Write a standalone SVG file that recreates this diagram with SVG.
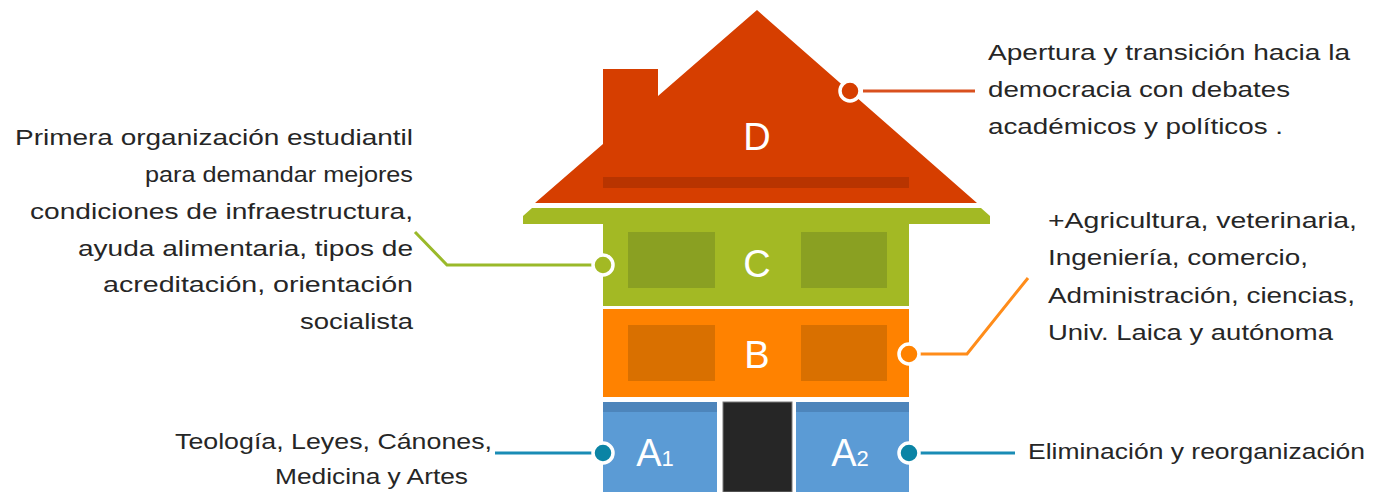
<svg xmlns="http://www.w3.org/2000/svg" width="1385" height="492" viewBox="0 0 1385 492">
<style>
.t{font-family:"Liberation Sans",Arial,sans-serif;font-size:22px;fill:#262626}
.lbl{font-family:"Liberation Sans",Arial,sans-serif;font-size:38px;fill:#ffffff;text-anchor:middle}
.sub{font-family:"Liberation Sans",Arial,sans-serif;font-size:22px;fill:#ffffff}
.ln{fill:none;stroke-width:3}
.dot{stroke:#ffffff;stroke-width:3.5}
</style>
<rect width="1385" height="492" fill="#ffffff"/>
<g id="node-D">
<path d="M757,10 L977,203 L535,203 L603,144 L603,69 L658,69 L658,96 Z" fill="#d63e00"/>
<rect x="603" y="177" width="306" height="11" fill="#b83400"/>
<text class="lbl" x="757" y="150">D</text>
</g>
<g id="node-C">
<path d="M532,208 L981,208 L990,216 L990,224 L909,224 L909,306 L603,306 L603,224 L523,224 L523,216 Z" fill="#a3b924"/>
<rect x="628" y="232" width="87" height="56" fill="#8aa022"/>
<rect x="801" y="232" width="86" height="56" fill="#8aa022"/>
<text class="lbl" x="757" y="277">C</text>
</g>
<g id="node-B">
<rect x="603" y="309" width="306" height="88" fill="#ff8200"/>
<rect x="628" y="325" width="87" height="56" fill="#d97000"/>
<rect x="801" y="325" width="86" height="56" fill="#d97000"/>
<text class="lbl" x="757" y="368">B</text>
</g>
<g id="node-A1">
<rect x="603" y="402" width="114" height="90" fill="#5b9bd5"/>
<rect x="603" y="402" width="114" height="10" fill="#4d85bb"/>
<text class="lbl" x="655" y="466">A<tspan class="sub" dx="0">1</tspan></text>
</g>
<g id="node-door">
<rect x="723" y="402" width="69" height="90" fill="#262626" stroke="#7a7a7a" stroke-width="1"/>
</g>
<g id="node-A2">
<rect x="796" y="402" width="113" height="90" fill="#5b9bd5"/>
<rect x="796" y="402" width="113" height="10" fill="#4d85bb"/>
<text class="lbl" x="850" y="466">A<tspan class="sub">2</tspan></text>
</g>
<g id="connectors">
<path class="ln" d="M863,91 L975,91" stroke="#d9501e"/>
<path class="ln" d="M415,232 L447,265 L592,265" stroke="#9ab92a"/>
<path class="ln" d="M920,354 L967,354 L1028,278" stroke="#ff8c1a"/>
<path class="ln" d="M495,453 L592,453" stroke="#1a8cb5"/>
<path class="ln" d="M920,453 L1015,453" stroke="#1a8cb5"/>
<circle class="dot" cx="850" cy="91" r="10" fill="#d63e00"/>
<circle class="dot" cx="603" cy="265" r="10" fill="#a3b924"/>
<circle class="dot" cx="909" cy="354" r="10" fill="#ff8200"/>
<circle class="dot" cx="603" cy="453" r="10" fill="#0b84a5"/>
<circle class="dot" cx="909" cy="453" r="10" fill="#0b84a5"/>
</g>
<g id="text-D">
<text class="t" x="988" y="60" textLength="362" lengthAdjust="spacingAndGlyphs">Apertura y transición hacia la</text>
<text class="t" x="988" y="97" textLength="302" lengthAdjust="spacingAndGlyphs">democracia con debates</text>
<text class="t" x="988" y="134" textLength="295" lengthAdjust="spacingAndGlyphs">académicos y políticos .</text>
</g>
<g id="text-C">
<text class="t" x="15" y="145" textLength="398" lengthAdjust="spacingAndGlyphs">Primera organización estudiantil</text>
<text class="t" x="145" y="182" textLength="268" lengthAdjust="spacingAndGlyphs">para demandar mejores</text>
<text class="t" x="30" y="219" textLength="383" lengthAdjust="spacingAndGlyphs">condiciones de infraestructura,</text>
<text class="t" x="78" y="256" textLength="335" lengthAdjust="spacingAndGlyphs">ayuda alimentaria, tipos de</text>
<text class="t" x="103" y="292" textLength="310" lengthAdjust="spacingAndGlyphs">acreditación, orientación</text>
<text class="t" x="300" y="329" textLength="113" lengthAdjust="spacingAndGlyphs">socialista</text>
</g>
<g id="text-B">
<text class="t" x="1048" y="228" textLength="309" lengthAdjust="spacingAndGlyphs">+Agricultura, veterinaria,</text>
<text class="t" x="1048" y="265" textLength="260" lengthAdjust="spacingAndGlyphs">Ingeniería, comercio,</text>
<text class="t" x="1048" y="303" textLength="307" lengthAdjust="spacingAndGlyphs">Administración, ciencias,</text>
<text class="t" x="1048" y="340" textLength="285" lengthAdjust="spacingAndGlyphs">Univ. Laica y autónoma</text>
</g>
<g id="text-A1">
<text class="t" x="175" y="449" textLength="317" lengthAdjust="spacingAndGlyphs">Teología, Leyes, Cánones,</text>
<text class="t" x="275" y="484" textLength="193" lengthAdjust="spacingAndGlyphs">Medicina y Artes</text>
</g>
<g id="text-A2">
<text class="t" x="1028" y="459" textLength="337" lengthAdjust="spacingAndGlyphs">Eliminación y reorganización</text>
</g>
</svg>
